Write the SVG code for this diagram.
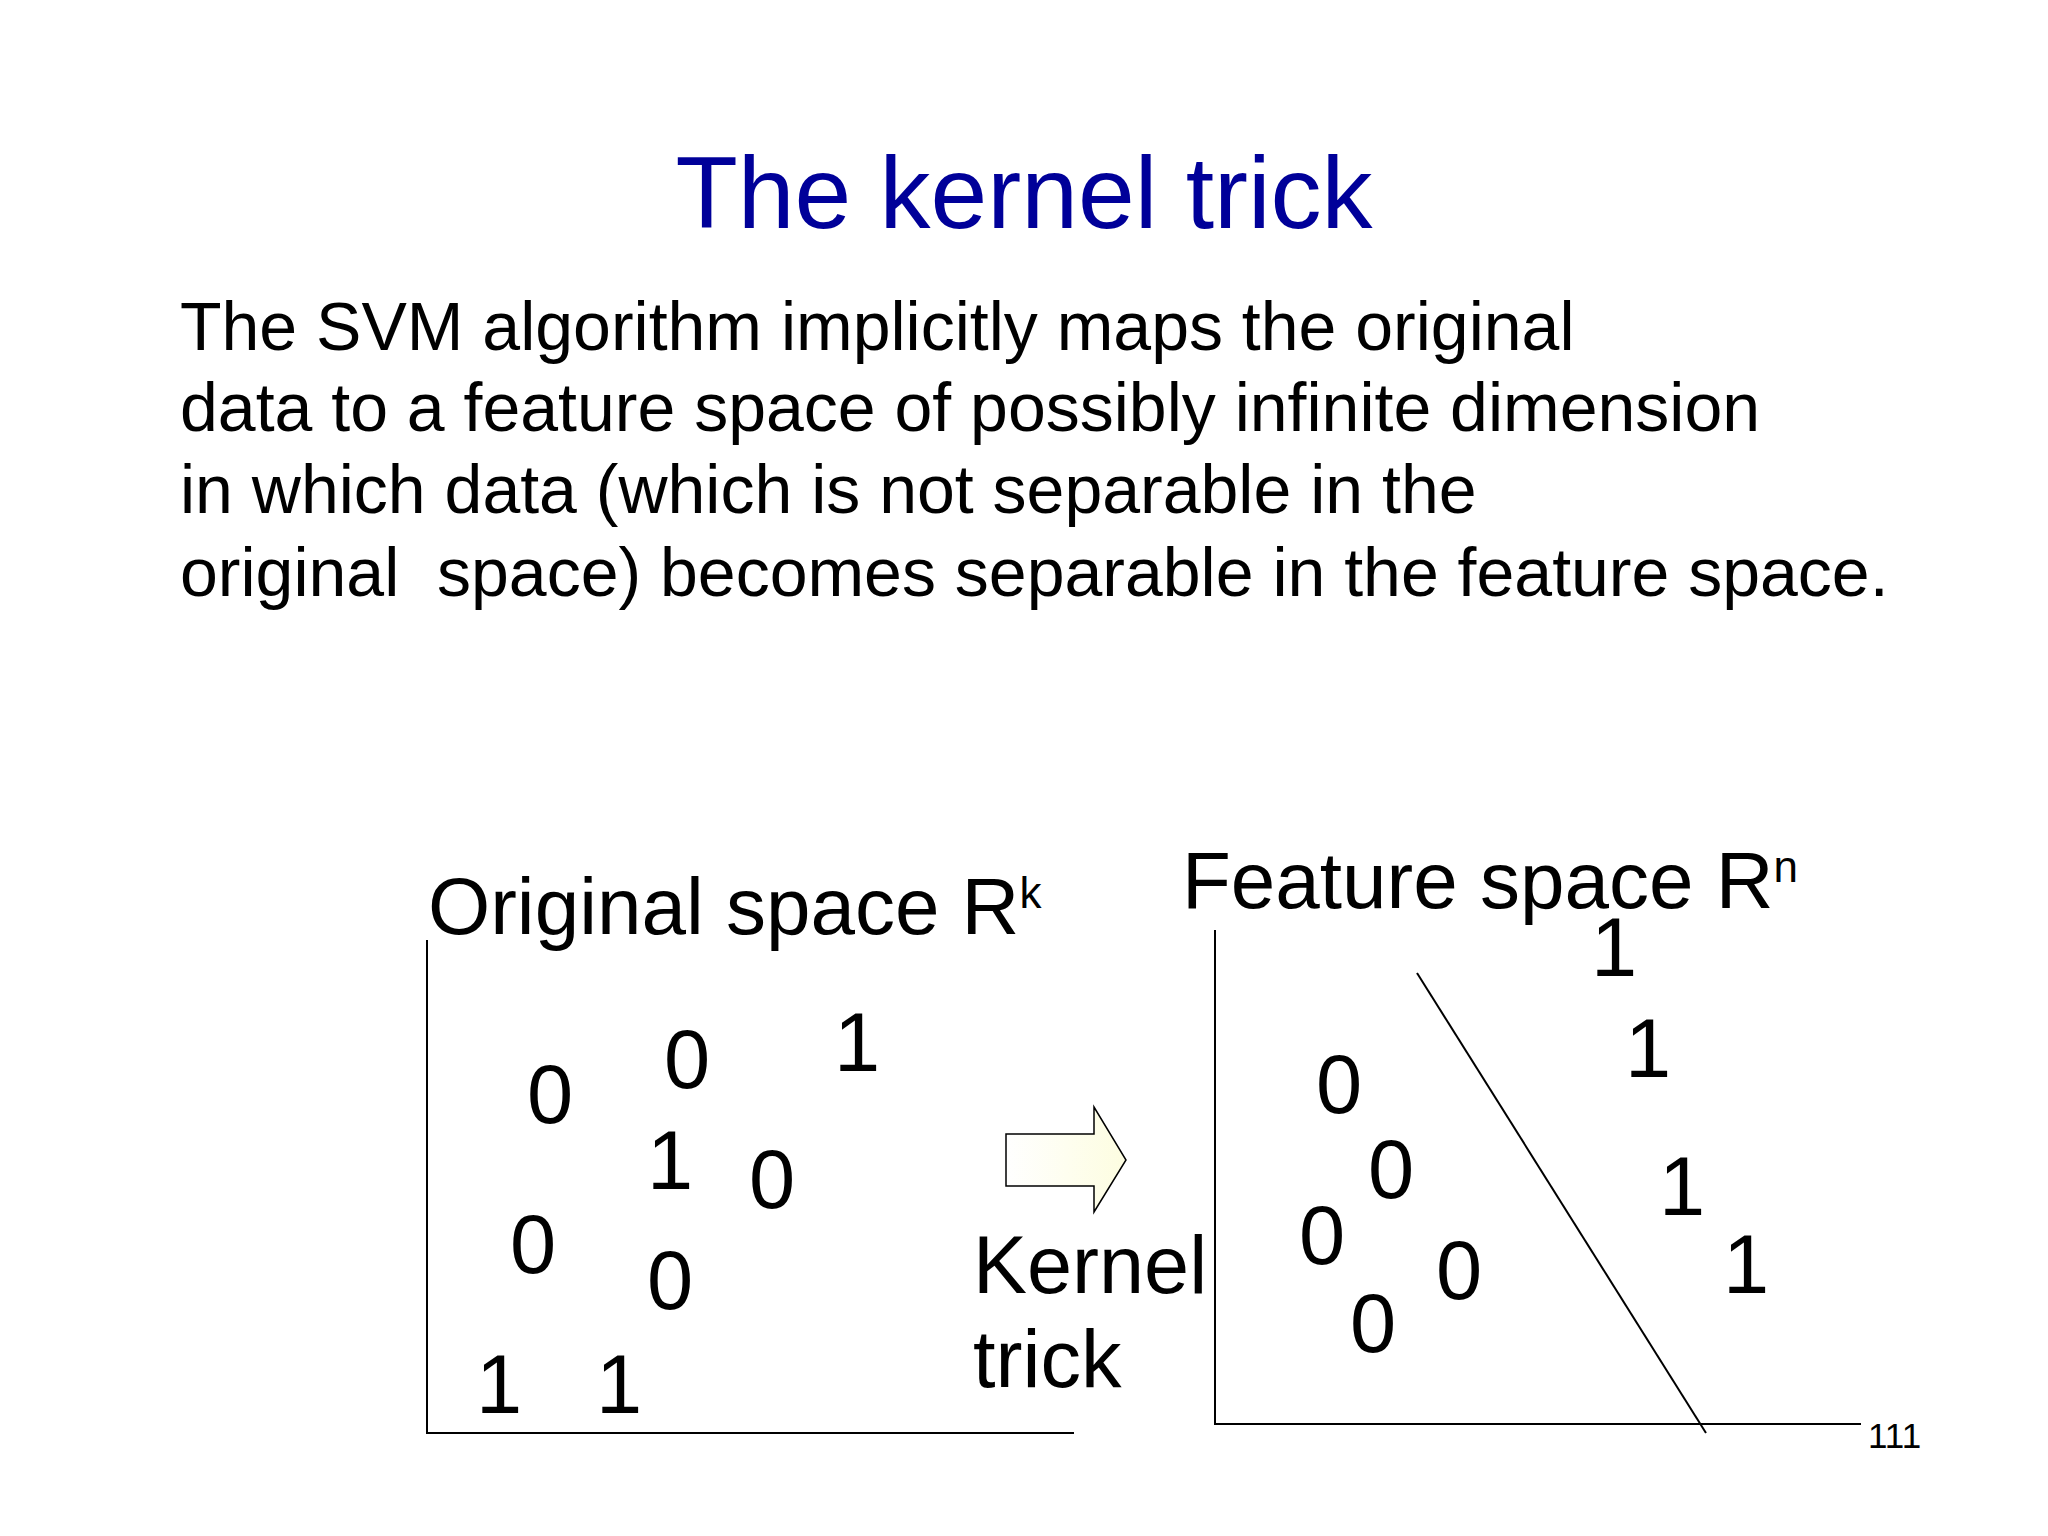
<svg xmlns="http://www.w3.org/2000/svg" width="2048" height="1536" viewBox="0 0 2048 1536">
<style>
text{font-family:"Liberation Sans",Arial,sans-serif;fill:#000}
.d{font-size:83px;text-anchor:middle}
.b{font-size:68px}
.l{stroke:#000;stroke-width:2;fill:none}
</style>
<defs><linearGradient id="g" x1="0" x2="1"><stop offset="0" stop-color="#ffffff"/><stop offset="1" stop-color="#fdfde0"/></linearGradient></defs>
<rect width="2048" height="1536" fill="#fff"/>
<text x="1024" y="228" style="font-size:102px;fill:#000099;text-anchor:middle">The kernel trick</text>
<g id="body">
<text class="b" x="180" y="350">The SVM algorithm implicitly maps the original</text>
<text class="b" x="180" y="431">data to a feature space of possibly infinite dimension</text>
<text class="b" x="180" y="513">in which data (which is not separable in the</text>
<text class="b" x="180" y="596" xml:space="preserve">original  space) becomes separable in the feature space.</text>
</g>
<g id="original">
<text x="428" y="934" style="font-size:80px">Original space R<tspan dy="-26" style="font-size:44px">k</tspan></text>
<path class="l" d="M427 940V1433H1074"/>
<text class="d" x="550" y="1123">0</text><text class="d" x="687" y="1088">0</text><text class="d" x="857" y="1071">1</text>
<text class="d" x="670" y="1189">1</text><text class="d" x="772" y="1208">0</text><text class="d" x="533" y="1273">0</text>
<text class="d" x="670" y="1309">0</text><text class="d" x="499" y="1413">1</text><text class="d" x="619" y="1413">1</text>
</g>
<g id="feature">
<text x="1182" y="908" style="font-size:80px">Feature space R<tspan dy="-26" style="font-size:44px">n</tspan></text>
<path class="l" d="M1215 930V1424H1861"/>
<text class="d" x="1614" y="976">1</text><text class="d" x="1648" y="1077">1</text><text class="d" x="1339" y="1113">0</text>
<text class="d" x="1391" y="1198">0</text><text class="d" x="1682" y="1215">1</text><text class="d" x="1322" y="1264">0</text>
<text class="d" x="1459" y="1299">0</text><text class="d" x="1746" y="1293">1</text><text class="d" x="1373" y="1352">0</text>
<text x="1868" y="1448" style="font-size:35px">111</text>
</g>
<g id="connectors">
<path class="l" d="M1417 973L1706 1433"/>
<path d="M1006 1134H1094V1107L1126 1160L1094 1212V1186H1006Z" fill="url(#g)" stroke="#000" stroke-width="1.5"/>
</g>
<g id="kernel">
<text x="973" y="1293" style="font-size:81px">Kernel</text>
<text x="973" y="1387" style="font-size:81px">trick</text>
</g>
</svg>
